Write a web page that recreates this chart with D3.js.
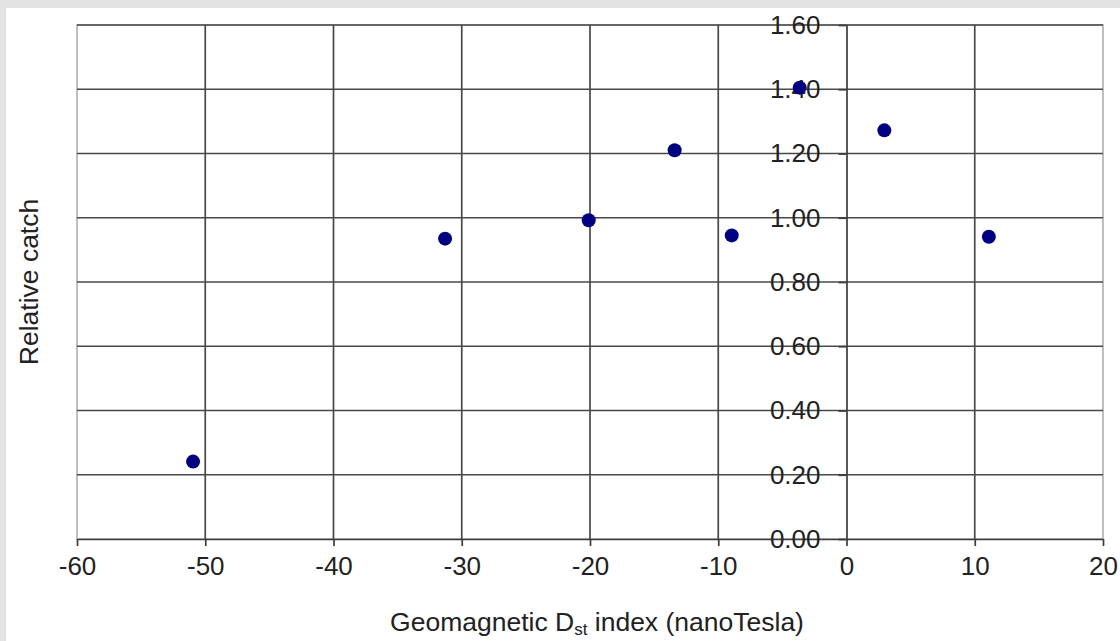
<!DOCTYPE html>
<html>
<head>
<meta charset="utf-8">
<script src="https://cdn.jsdelivr.net/npm/d3@7.9.0/dist/d3.min.js"></script>
<style>
  html, body { margin: 0; padding: 0; background: #fff; }
  svg { display: block; font-family: "Liberation Sans", Arial, sans-serif; }
</style>
</head>
<body>
<svg id="chart" width="1120" height="641"></svg>
<script>
// Dst index (nT) and relative catch
const dstValues = [-50.95, -31.3, -20.1, -13.4, -8.95, -3.65, 2.95, 11.1];
const catchValues = [0.241, 0.935, 0.992, 1.21, 0.945, 1.405, 1.272, 0.941];
const xTicks = [-60, -50, -40, -30, -20, -10, 0, 10, 20];
const yTicks = [0, 0.2, 0.4, 0.6, 0.8, 1.0, 1.2, 1.4, 1.6];

const width = 1120, height = 641;
const margin = { top: 25, right: 17, bottom: 102, left: 77 };

const svg = d3.select('#chart');

// grey frame at top and left (screenshot border)
svg.append('rect').attr('x', 0).attr('y', 0).attr('width', width).attr('height', 8).attr('fill', '#e3e3e3');
svg.append('rect').attr('x', 0).attr('y', 0).attr('width', 6).attr('height', height).attr('fill', '#e3e3e3');

const x = d3.scaleLinear().domain([-60, 20]).range([margin.left, width - margin.right]);
const y = d3.scaleLinear().domain([0, 1.6]).range([height - margin.bottom, margin.top]);

// plot area border
svg.append('rect')
  .attr('x', x(-60)).attr('y', y(1.6))
  .attr('width', x(20) - x(-60)).attr('height', y(0) - y(1.6))
  .attr('fill', 'none').attr('stroke', '#b0b0b0').attr('stroke-width', 1.6);

// gridlines
svg.append('g').selectAll('line').data(xTicks.filter(d => d > -60 && d < 20 && d !== 0)).join('line')
  .attr('x1', d => x(d)).attr('x2', d => x(d))
  .attr('y1', y(0)).attr('y2', y(1.6))
  .attr('stroke', '#484848').attr('stroke-width', 1.7);
svg.append('g').selectAll('line').data(yTicks.filter(d => d > 0)).join('line')
  .attr('x1', x(-60)).attr('x2', x(20))
  .attr('y1', d => y(d)).attr('y2', d => y(d))
  .attr('stroke', '#484848').attr('stroke-width', 1.7);

// x axis at y = 0
const xAxis = svg.append('g')
  .attr('transform', `translate(0,${y(0)})`)
  .call(d3.axisBottom(x).tickValues(xTicks).tickFormat(d => String(d))
    .tickSize(7).tickPadding(11).tickSizeOuter(0));
xAxis.select('.domain').attr('stroke', '#3c3c3c').attr('stroke-width', 1.7);
xAxis.selectAll('.tick line').attr('stroke', '#3c3c3c').attr('stroke-width', 1.7);
xAxis.selectAll('.tick text').attr('font-size', 26).attr('fill', '#222')
  .attr('font-family', '"Liberation Sans", Arial, sans-serif');

// y axis at x = 0
const yAxis = svg.append('g')
  .attr('transform', `translate(${x(0)},0)`)
  .call(d3.axisLeft(y).tickValues(yTicks).tickFormat(d3.format('.2f')).tickSize(8).tickPadding(18).tickSizeOuter(0));
yAxis.select('.domain').attr('stroke', '#3c3c3c').attr('stroke-width', 1.7);
yAxis.selectAll('.tick line').attr('stroke', '#3c3c3c').attr('stroke-width', 1.7);
yAxis.selectAll('.tick text').attr('font-size', 26).attr('fill', '#222')
  .attr('font-family', '"Liberation Sans", Arial, sans-serif');

// points
svg.append('g').selectAll('circle').data(dstValues).join('circle')
  .attr('cx', d => x(d))
  .attr('cy', (d, i) => y(catchValues[i]))
  .attr('r', 7)
  .attr('fill', '#000080');

// axis titles
const xTitle = svg.append('text')
  .attr('x', 597).attr('y', 631)
  .attr('text-anchor', 'middle')
  .attr('font-size', 26.5).attr('fill', '#222');
xTitle.append('tspan').text('Geomagnetic D');
xTitle.append('tspan').attr('font-size', 17).attr('dy', 4).text('st');
xTitle.append('tspan').attr('dy', -4).text(' index (nanoTesla)');

svg.append('text')
  .attr('transform', `translate(38,${(y(0) + y(1.6)) / 2}) rotate(-90)`)
  .attr('text-anchor', 'middle')
  .attr('font-size', 26.5).attr('fill', '#222')
  .text('Relative catch');
</script>
</body>
</html>
